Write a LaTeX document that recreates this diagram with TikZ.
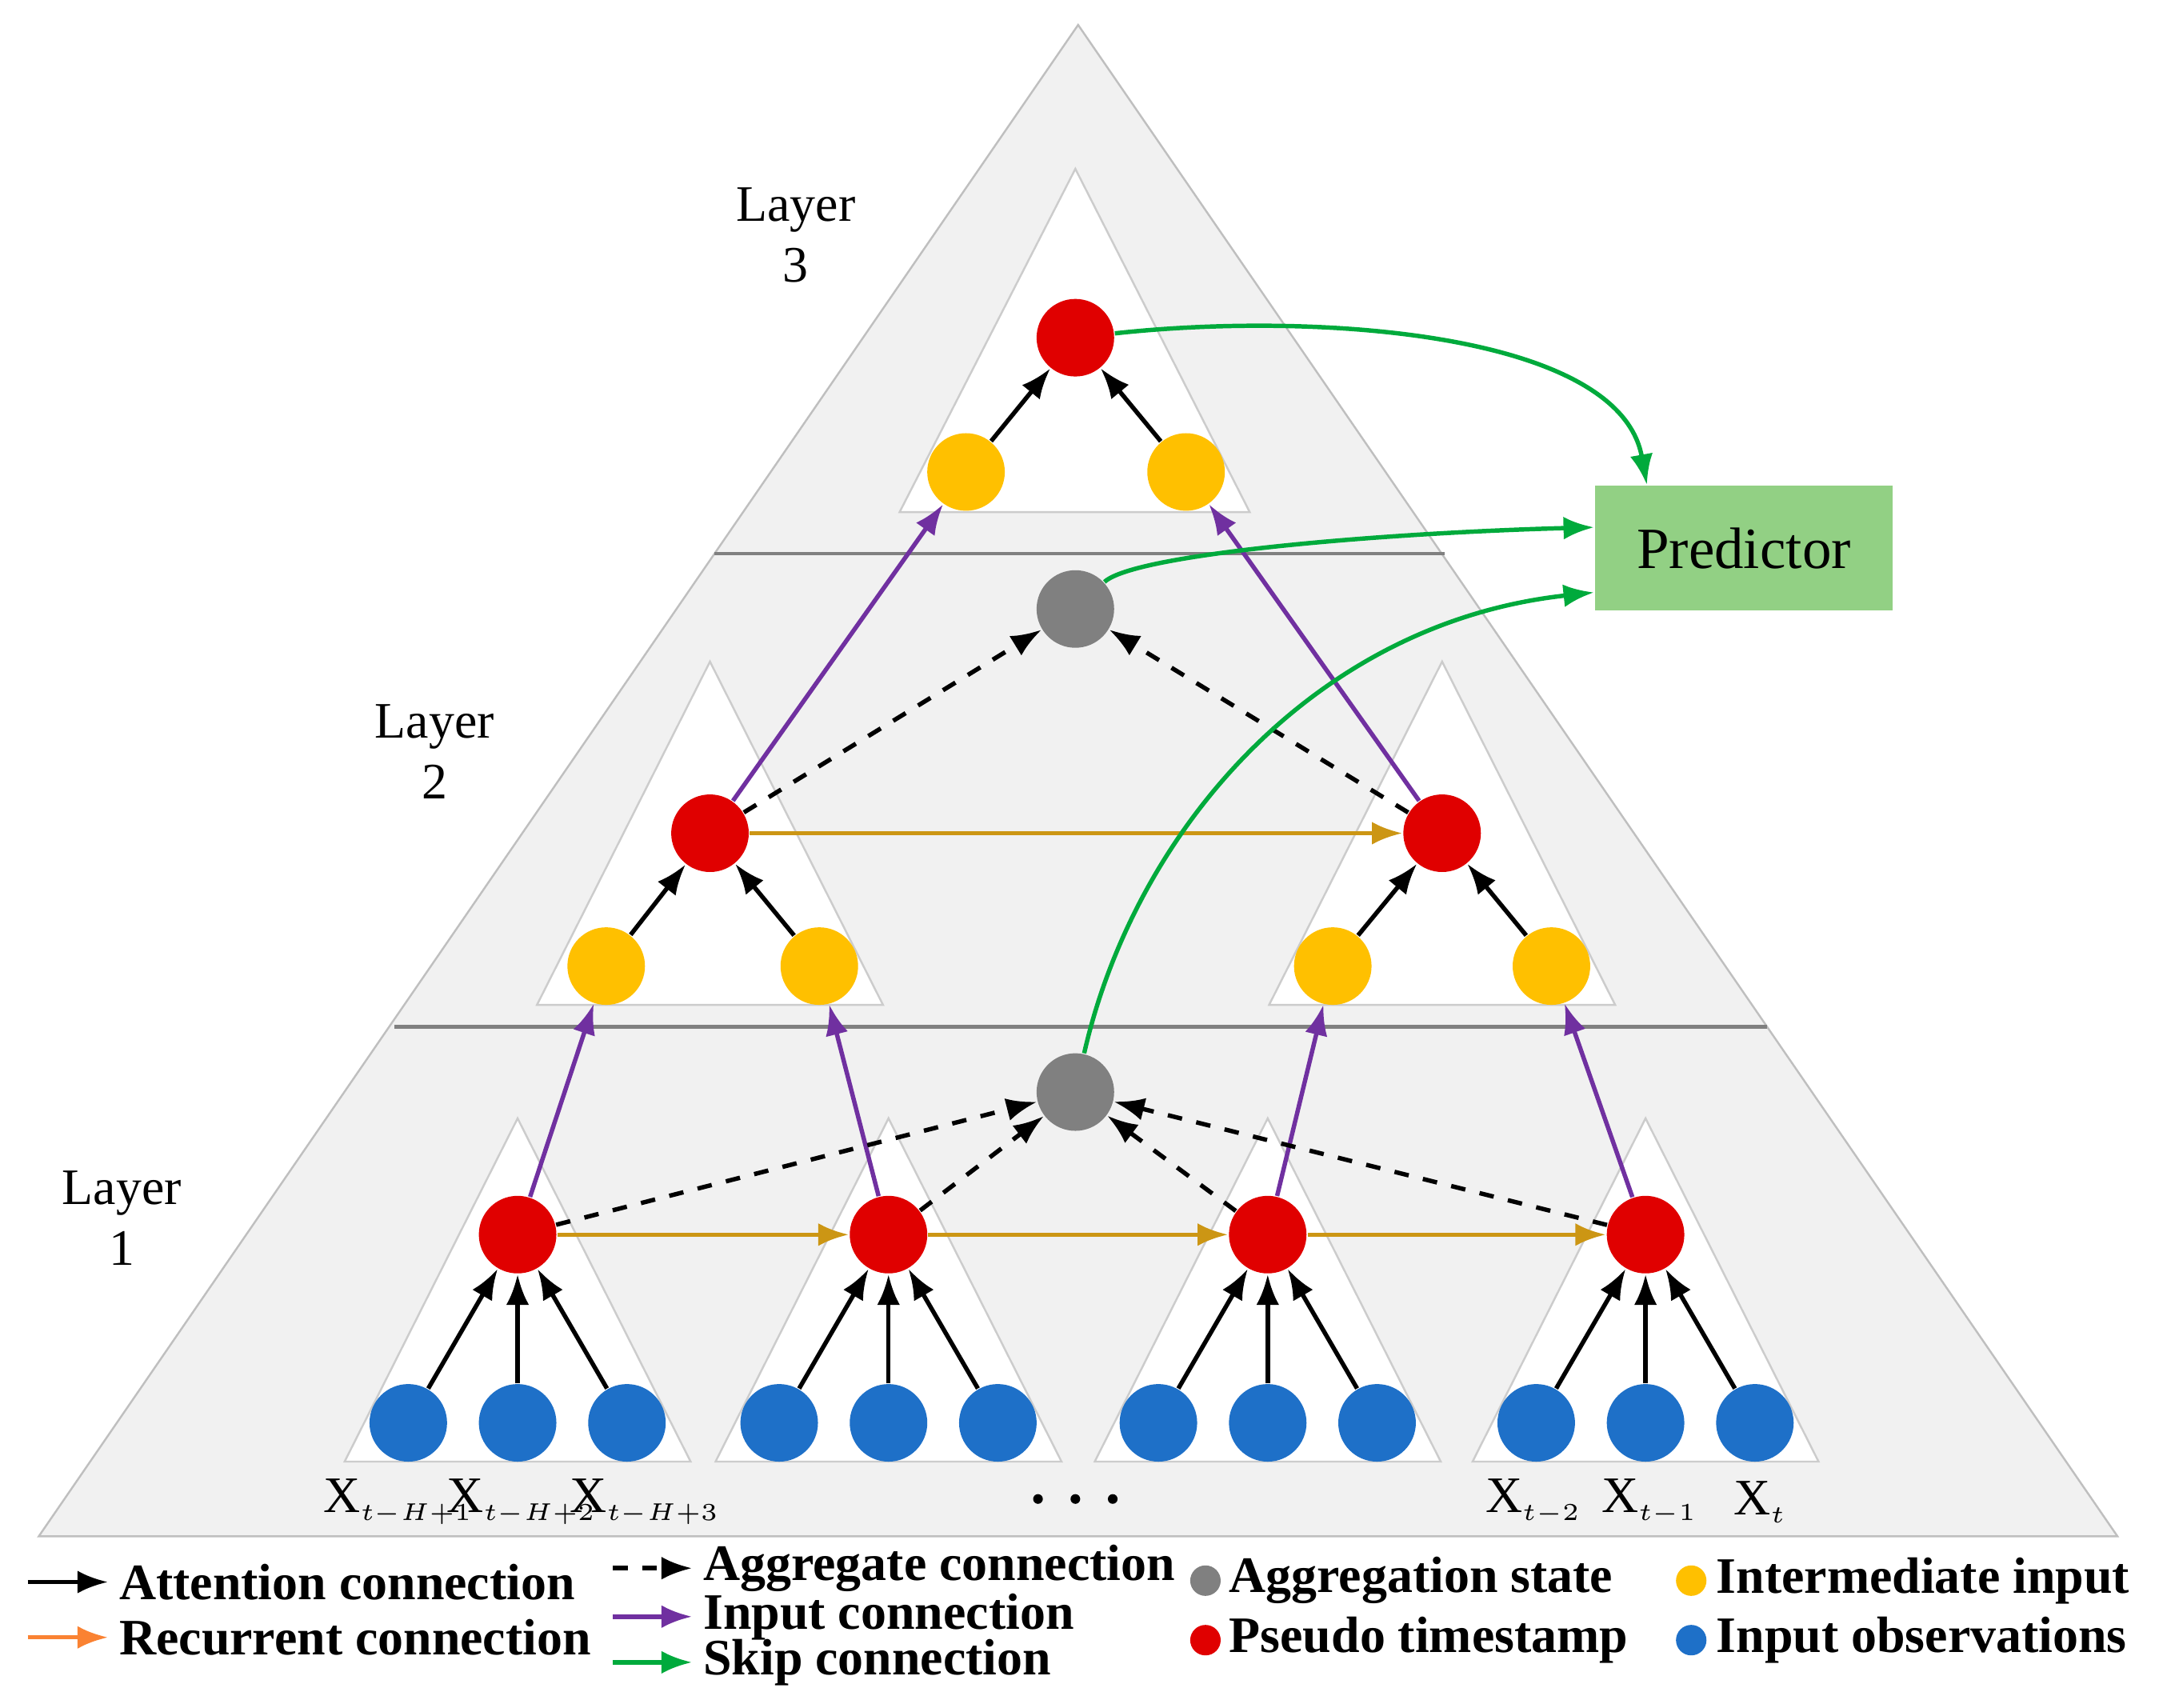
\documentclass[tikz,border=0pt]{standalone}
\usepackage{fontspec}
\setmainfont{Liberation Serif}
\usetikzlibrary{arrows.meta}
\definecolor{bgray}{RGB}{241,241,241}
\definecolor{dred}{RGB}{224,0,0}
\definecolor{dyel}{RGB}{255,192,0}
\definecolor{dblue}{RGB}{30,112,200}
\definecolor{dgray}{RGB}{128,128,128}
\definecolor{recur}{RGB}{204,150,20}
\definecolor{legor}{RGB}{250,130,50}
\definecolor{inpur}{RGB}{112,48,160}
\definecolor{skipg}{RGB}{0,170,60}
\definecolor{predg}{RGB}{146,208,132}
\newcommand{\xsub}[1]{X$_{\scriptscriptstyle #1}$}
\tikzset{
  dot/.style={circle, minimum size=0.56cm, inner sep=0pt},
  red/.style={dot, fill=dred},
  yel/.style={dot, fill=dyel},
  obs/.style={dot, fill=dblue},
  agg/.style={dot, fill=dgray},
  att/.style={-{Latex[length=2.2mm]}, line width=0.9pt, black},
  rec/.style={-{Latex[length=2.2mm]}, line width=0.9pt, recur},
  inp/.style={-{Latex[length=2.2mm]}, line width=0.9pt, inpur},
  aggr/.style={-{Latex[length=2.2mm]}, line width=0.9pt, dashed, black},
  skip/.style={-{Latex[length=2.2mm]}, line width=0.9pt, skipg},
  lay/.style={font=\fontsize{10.5}{12.5}\selectfont, align=center, inner sep=0pt},
  leg/.style={font=\bfseries\fontsize{10.5}{12}\selectfont, anchor=west, inner sep=1pt},
  tri/.style={fill=white, draw=gray!40, line width=0.4pt}
}
\begin{document}
\begin{tikzpicture}[x=0.01cm, y=-0.01cm]
\useasboundingbox (0,0) rectangle (1560,1234);
% outer pyramid
\fill[bgray, draw=gray!50] (779,18) -- (1530,1110) -- (28,1110) -- cycle;
\draw[gray, line width=0.8pt] (516,400) -- (1044,400);
\draw[gray, line width=0.8pt] (285,742) -- (1277,742);
% inner triangles
\draw[tri] (777,122) -- (903,370) -- (650,370) -- cycle;
\foreach \x in {513,1042}
  \draw[tri] (\x,478) -- (\x+125,726) -- (\x-125,726) -- cycle;
\foreach \x in {374,642,916,1189}
  \draw[tri] (\x,808) -- (\x+125,1056) -- (\x-125,1056) -- cycle;
% layer labels
\node[lay] at (575,170) {Layer\\3};
\node[lay] at (314,543) {Layer\\2};
\node[lay] at (88,880) {Layer\\1};
% nodes
\node[red] (r3) at (777,244) {};
\node[yel] (y3a) at (698,341) {};
\node[yel] (y3b) at (857,341) {};
\node[agg] (g2) at (777,440) {};
\node[red] (r2a) at (513,602) {};
\node[red] (r2b) at (1042,602) {};
\node[yel] (y2a) at (438,698) {};
\node[yel] (y2b) at (592,698) {};
\node[yel] (y2c) at (963,698) {};
\node[yel] (y2d) at (1121,698) {};
\node[agg] (g1) at (777,789) {};
\foreach \x [count=\i] in {374,642,916,1189} {
  \node[red] (r1\i) at (\x,892) {};
  \foreach \d [count=\j] in {-79,0,79} {
    \node[obs] (o\i\j) at (\x+\d,1028) {};
    \draw[att] (o\i\j) -- (r1\i);
  }
}
\node[fill=predg, minimum width=2.15cm, minimum height=0.9cm,
      font=\fontsize{12}{14}\selectfont] (pred) at (1260,396) {Predictor};
% attention
\draw[att] (y3a) -- (r3);
\draw[att] (y3b) -- (r3);
\draw[att] (y2a) -- (r2a);
\draw[att] (y2b) -- (r2a);
\draw[att] (y2c) -- (r2b);
\draw[att] (y2d) -- (r2b);
% recurrent
\draw[rec] (r11) -- (r12);
\draw[rec] (r12) -- (r13);
\draw[rec] (r13) -- (r14);
\draw[rec] (r2a) -- (r2b);
% input
\draw[inp] (r11) -- (y2a);
\draw[inp] (r12) -- (y2b);
\draw[inp] (r13) -- (y2c);
\draw[inp] (r14) -- (y2d);
\draw[inp] (r2a) -- (y3a);
\draw[inp] (r2b) -- (y3b);
% aggregate
\foreach \i in {1,...,4}
  \draw[aggr] (r1\i) -- (g1);
\draw[aggr] (r2a) -- (g2);
\draw[aggr] (r2b) -- (g2);
% skip
\draw[skip] (r3) .. controls (950,225) and (1170,240) .. ([xshift=-0.7cm]pred.north);
\draw[skip] (g2) .. controls (820,400) and (1000,385) .. ([yshift=0.15cm]pred.west);
\draw[skip] (g1) .. controls (820,600) and (950,450) .. ([yshift=-0.32cm]pred.west);
% x labels
\node[lay] (xa) at (288,1085) {\xsub{t-H+1}};
\node[lay] (xb) at (377,1085) {\xsub{t-H+2}};
\node[lay] (xc) at (466,1085) {\xsub{t-H+3}};
\foreach \x in {750,777,804}
  \fill (\x,1083) circle (0.035cm);
\node[lay] (xe) at (1108,1085) {\xsub{t-2}};
\node[lay] (xf) at (1192,1085) {\xsub{t-1}};
\node[lay] (xg) at (1272,1085) {\xsub{t}};
% legend
\coordinate (la1) at (20,1143); \coordinate (la2) at (78,1143);
\draw[att] (la1) -- (la2); \node[leg] at (82,1143) {Attention connection};
\coordinate (lb1) at (20,1183); \coordinate (lb2) at (78,1183);
\draw[-{Latex[length=2.2mm]}, line width=0.9pt, legor] (lb1) -- (lb2);
\node[leg] at (82,1183) {Recurrent connection};
\coordinate (lc1) at (443,1133); \coordinate (lc2) at (500,1133);
\draw[aggr] (lc1) -- (lc2); \node[leg] at (504,1133) {Aggregate connection};
\coordinate (ld1) at (443,1168); \coordinate (ld2) at (500,1168);
\draw[inp] (ld1) -- (ld2); \node[leg] at (504,1168) {Input connection};
\coordinate (le1) at (443,1201); \coordinate (le2) at (500,1201);
\draw[skip] (le1) -- (le2); \node[leg] at (504,1201) {Skip connection};
\node[agg, minimum size=0.22cm] (lg) at (871,1142) {};
\node[leg] at (884,1142) {Aggregation state};
\node[red, minimum size=0.22cm] (lr) at (871,1185) {};
\node[leg] at (884,1185) {Pseudo timestamp};
\node[yel, minimum size=0.22cm] (ly) at (1222,1142) {};
\node[leg] at (1236,1142) {Intermediate input};
\node[obs, minimum size=0.22cm] (lo) at (1222,1185) {};
\node[leg] at (1236,1185) {Input observations};
\end{tikzpicture}
\end{document}
